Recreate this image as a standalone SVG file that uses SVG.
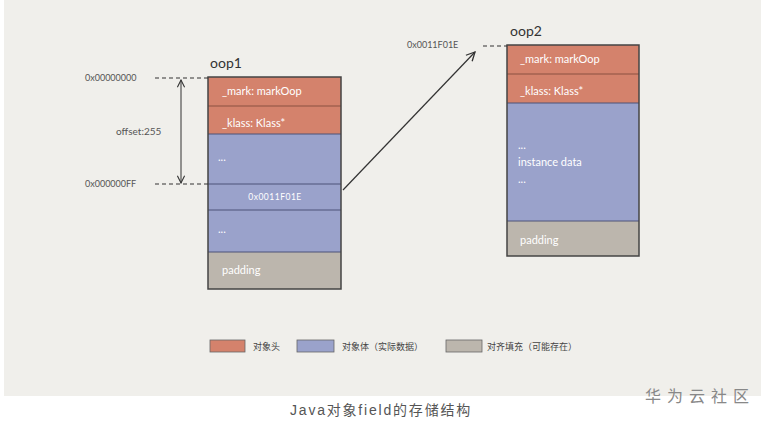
<svg xmlns="http://www.w3.org/2000/svg" width="765" height="422" viewBox="0 0 765 422">
<defs>
<style>
.lbl{font-family:"Lato","Liberation Sans",sans-serif;font-size:11px;fill:#fff}
.addr{font-family:"Lato","Liberation Sans",sans-serif;font-size:9px;fill:#555}
.title{font-family:"Lato","Liberation Sans",sans-serif;font-size:14px;fill:#333}
.leg{font-family:"Noto Sans CJK SC",sans-serif;font-size:9px;fill:#444}
.hdr{fill:#d4826c}
.body{fill:#9aa2cb}
.pad{fill:#bcb6ad}
.frame{fill:none;stroke:#444;stroke-width:1.5}
.div{stroke:#4d5378;stroke-width:1}
.dash{stroke:#333;stroke-width:1.2;stroke-dasharray:4 3;fill:none}
</style>
<marker id="open" viewBox="0 0 10 10" refX="9" refY="5" markerWidth="9" markerHeight="9" orient="auto-start-reverse">
<path d="M1,1 L9,5 L1,9" fill="none" stroke="#333" stroke-width="1.2"/>
</marker>
</defs>
<rect x="0" y="0" width="765" height="422" fill="#ffffff"/>
<rect x="4" y="0" width="757" height="396" fill="#f0efeb"/>
<g id="oop1">
<text class="title" x="210" y="68">oop1</text>
<rect class="hdr" x="208" y="77" width="133" height="57"/>
<rect class="body" x="208" y="134" width="133" height="118"/>
<rect class="pad" x="208" y="252" width="133" height="37"/>
<line class="div" x1="208" y1="106" x2="341" y2="106" style="stroke:#8a5040"/>
<line class="div" x1="208" y1="134" x2="341" y2="134"/>
<line class="div" x1="208" y1="184" x2="341" y2="184"/>
<line class="div" x1="208" y1="210" x2="341" y2="210"/>
<line class="div" x1="208" y1="252" x2="341" y2="252"/>
<rect class="frame" x="208" y="77" width="133" height="212"/>
<text class="lbl" x="222" y="95">_mark: markOop</text>
<text class="lbl" x="222" y="127">_klass: Klass*</text>
<text class="lbl" x="218" y="161">...</text>
<text class="lbl" x="275" y="200" text-anchor="middle" style="font-size:8.5px" letter-spacing="0.5">0x0011F01E</text>
<text class="lbl" x="218" y="233">...</text>
<text class="lbl" x="222" y="274">padding</text>
</g>
<g id="oop2">
<text class="title" x="510" y="36">oop2</text>
<rect class="hdr" x="507" y="45" width="132" height="58"/>
<rect class="body" x="507" y="103" width="132" height="118"/>
<rect class="pad" x="507" y="221" width="132" height="35"/>
<line class="div" x1="507" y1="74" x2="639" y2="74" style="stroke:#8a5040"/>
<line class="div" x1="507" y1="103" x2="639" y2="103"/>
<line class="div" x1="507" y1="221" x2="639" y2="221"/>
<rect class="frame" x="507" y="45" width="132" height="211"/>
<text class="lbl" x="520" y="63">_mark: markOop</text>
<text class="lbl" x="520" y="95">_klass: Klass*</text>
<text class="lbl" x="518" y="149">...</text>
<text class="lbl" x="518" y="166">instance data</text>
<text class="lbl" x="518" y="183">...</text>
<text class="lbl" x="520" y="244">padding</text>
</g>
<g id="labels">
<text class="addr" x="85" y="81">0x00000000</text>
<text class="addr" x="85" y="187">0x000000FF</text>
<text class="addr" x="116" y="135" style="font-size:10px">offset:255</text>
<text class="addr" x="407" y="48">0x0011F01E</text>
</g>
<g id="connectors">
<line class="dash" x1="155" y1="78" x2="208" y2="78"/>
<line class="dash" x1="155" y1="184" x2="208" y2="184"/>
<line x1="181" y1="80" x2="181" y2="183" stroke="#333" stroke-width="1" marker-start="url(#open)" marker-end="url(#open)"/>
<line x1="343" y1="190" x2="475" y2="52" stroke="#333" stroke-width="1.2" marker-end="url(#open)"/>
<line class="dash" x1="483" y1="46" x2="507" y2="46"/>
</g>
<g id="legend">
<rect class="hdr" x="210" y="340" width="35" height="12" stroke="#666" stroke-width="0.8"/>
<text class="leg" x="253" y="350">对象头</text>
<rect class="body" x="297" y="340" width="37" height="12" stroke="#666" stroke-width="0.8"/>
<text class="leg" x="342" y="350">对象体（实际数据）</text>
<rect class="pad" x="446" y="340" width="36" height="12" stroke="#666" stroke-width="0.8"/>
<text class="leg" x="487" y="350">对齐填充（可能存在）</text>
</g>
<text x="290" y="415" font-family="Liberation Sans, Noto Sans CJK SC, sans-serif" font-size="14" fill="#555" letter-spacing="1.8">Java对象field的存储结构</text>
<text x="645" y="402" font-family="Noto Sans CJK SC, sans-serif" font-size="16" fill="#888" letter-spacing="6">华为云社区</text>
</svg>
